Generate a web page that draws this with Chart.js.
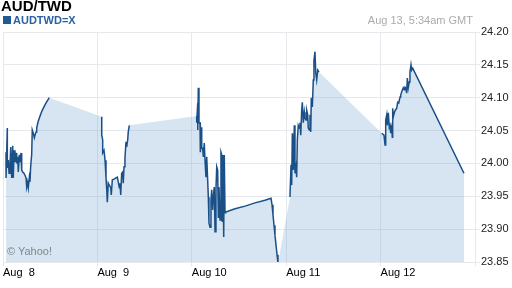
<!DOCTYPE html>
<html><head><meta charset="utf-8">
<script src="https://cdn.jsdelivr.net/npm/chart.js@4.4.1/dist/chart.umd.min.js"></script>
<style>
html,body{margin:0;padding:0;background:#fff;}
#wrap{position:relative;width:512px;height:288px;overflow:hidden;font-family:"Liberation Sans",Arial,sans-serif;}
canvas{position:absolute;left:0;top:0;}
.t{position:absolute;white-space:pre;line-height:1;}
</style></head><body>
<div id="wrap">
<canvas id="c" width="512" height="288"></canvas>
<div class="t" style="left:1px;top:-2px;font-size:15px;font-weight:bold;color:#000;">AUD/TWD</div>
<div style="position:absolute;left:3px;top:16px;width:8px;height:8px;background:#1f5a96;"></div>
<div class="t" style="left:13px;top:15px;font-size:11px;font-weight:bold;color:#2a61a3;">AUDTWD=X</div>
<div class="t" style="right:39px;top:15px;font-size:11px;color:#ababab;">Aug 13, 5:34am GMT</div>
<div class="t" style="left:7px;top:246px;font-size:11px;color:#80868c;">© Yahoo!</div>
</div>
<script>
// x values are days since Aug 8 00:00 GMT
const dayLabels = ['Aug  8','Aug  9','Aug 10','Aug 11','Aug 12',''];
const yTicks = [23.85,23.90,23.95,24.00,24.05,24.10,24.15,24.20];

const aug8Day = [0.032,0.032,0.046,0.046,0.056,0.064,0.074,0.082,0.092,0.103,0.109,0.117,0.127,0.138,0.145,0.156,0.162,0.173,0.180,0.191,0.198,0.209,0.222,0.233,0.244,0.251,0.262,0.268,0.279,0.286,0.293,0.304,0.310,0.321,0.332,0.339,0.350,0.357,0.371,0.392,0.413,0.434,0.456,0.477,0.490];
const aug8Rate = [24.017,23.978,24.054,23.993,24.005,23.985,23.998,24.025,23.978,24.027,23.978,24.020,24.002,24.016,24.000,24.010,23.987,24.013,24.002,24.016,23.990,23.987,23.985,23.982,23.978,23.964,23.970,23.963,23.979,23.972,23.995,24.014,24.051,24.046,24.039,24.043,24.048,24.054,24.063,24.072,24.080,24.086,24.092,24.097,24.100];

const aug9Day = [1.046,1.046,1.056,1.056,1.070,1.081,1.091,1.099,1.105,1.115,1.126,1.141,1.147,1.158,1.176,1.197,1.211,1.221,1.232,1.239,1.247,1.257,1.268,1.274,1.282,1.292,1.303,1.310,1.321,1.327,1.338];
const aug9Rate = [24.071,24.043,24.036,24.016,24.020,24.005,23.979,23.960,23.941,23.970,23.967,23.963,23.952,23.975,23.976,23.978,23.979,23.972,23.963,23.970,23.952,23.985,23.987,23.970,23.995,24.008,24.033,24.025,24.036,24.048,24.058];

const aug10Day = [2.052,2.052,2.063,2.063,2.069,2.076,2.087,2.087,2.094,2.105,2.105,2.115,2.122,2.132,2.140,2.150,2.158,2.168,2.175,2.182,2.193,2.203,2.211,2.221,2.228,2.238,2.246,2.256,2.264,2.274,2.281,2.288,2.299,2.309,2.317,2.323,2.331,2.338,2.344,2.352,2.359,2.458,2.564,2.669,2.775,2.839,2.850,2.860,2.871,2.881,2.892,2.903,2.913];
const aug10Rate = [24.072,24.062,24.092,24.051,24.115,24.062,24.062,24.048,24.017,24.055,24.023,24.023,24.010,24.031,24.005,23.979,24.010,23.975,23.949,23.909,23.903,23.944,23.960,23.929,23.949,23.964,23.896,23.960,23.995,23.990,23.918,23.964,23.914,24.017,24.013,23.911,24.013,23.888,24.013,23.925,23.926,23.931,23.935,23.940,23.944,23.947,23.937,23.922,23.906,23.891,23.876,23.861,23.848];

const aug11Day = [3.040,3.051,3.058,3.065,3.075,3.075,3.086,3.093,3.104,3.111,3.118,3.128,3.139,3.146,3.154,3.164,3.171,3.181,3.192,3.199,3.210,3.217,3.228,3.234,3.245,3.252,3.260,3.266,3.277,3.287,3.294,3.305,3.313,3.323,3.334,3.347];
const aug11Rate = [23.949,23.998,23.967,24.046,24.031,23.990,24.058,23.985,23.995,23.979,24.036,24.058,24.054,24.062,24.043,24.081,24.093,24.062,24.078,24.069,24.066,24.081,24.074,24.054,24.051,24.074,24.048,24.100,24.086,24.127,24.157,24.170,24.138,24.127,24.142,24.139];

const aug12Day = [4.012,4.036,4.047,4.054,4.065,4.071,4.082,4.092,4.100,4.107,4.118,4.124,4.128,4.135,4.145,4.156,4.171,4.181,4.192,4.206,4.213,4.224,4.240,4.251,4.258,4.269,4.276,4.283,4.293,4.304,4.311,4.322,4.329,4.340,4.883];
const aug12Rate = [24.046,24.043,24.028,24.066,24.074,24.058,24.077,24.055,24.058,24.046,24.055,24.040,24.084,24.071,24.077,24.081,24.084,24.093,24.092,24.101,24.104,24.109,24.115,24.112,24.116,24.115,24.107,24.130,24.115,24.124,24.139,24.150,24.142,24.145,23.985];

const segments = [[aug8Day,aug8Rate],[aug9Day,aug9Rate],[aug10Day,aug10Rate],[aug11Day,aug11Rate],[aug12Day,aug12Rate]];
const toPts = (d,r) => d.map((x,i)=>({x:x,y:r[i]}));
const allPts = [].concat(...segments.map(s=>toPts(s[0],s[1])));

const LINE = '#1b4f88';
const GRID = '#e5e9ee';

const datasets = [{
  data: allPts, fill: 'start', backgroundColor: 'rgba(120,170,210,0.30)',
  borderWidth: 0, pointRadius: 0, tension: 0, order: 2
}].concat(segments.map(s=>({
  data: toPts(s[0],s[1]), fill: false, borderColor: LINE, borderWidth: 1.5,
  pointRadius: 0, tension: 0, order: 1
})));

new Chart(document.getElementById('c'), {
  type: 'line',
  data: { datasets },
  options: {
    responsive: false, animation: false,
    layout: { padding: { top: 32, left: 3, right: 0, bottom: 0 } },
    plugins: { legend: { display: false }, tooltip: { enabled: false } },
    scales: {
      x: {
        type: 'linear', min: 0, max: 5,
        grid: { color: GRID, tickLength: 4, lineWidth: 1 },
        border: { color: GRID },
        ticks: { stepSize: 1, align: 'start', padding: 0, maxRotation: 0, autoSkip: false,
          color: '#000', font: { family: 'Liberation Sans', size: 11 },
          callback: v => dayLabels[Math.round(v)] },
        afterFit: s => { s.height = 26; }
      },
      y: {
        position: 'right', min: yTicks[0], max: yTicks[yTicks.length-1],
        grid: { color: GRID, tickLength: 5 },
        border: { color: GRID },
        afterBuildTicks: s => { s.ticks = yTicks.map(v=>({value:v})); },
        ticks: { padding: 1, color: '#222', font: { family: 'Liberation Sans', size: 11 },
          callback: v => Number(v).toFixed(2) },
        afterFit: s => { s.width = 37; }
      }
    }
  }
});
</script>
</body></html>
